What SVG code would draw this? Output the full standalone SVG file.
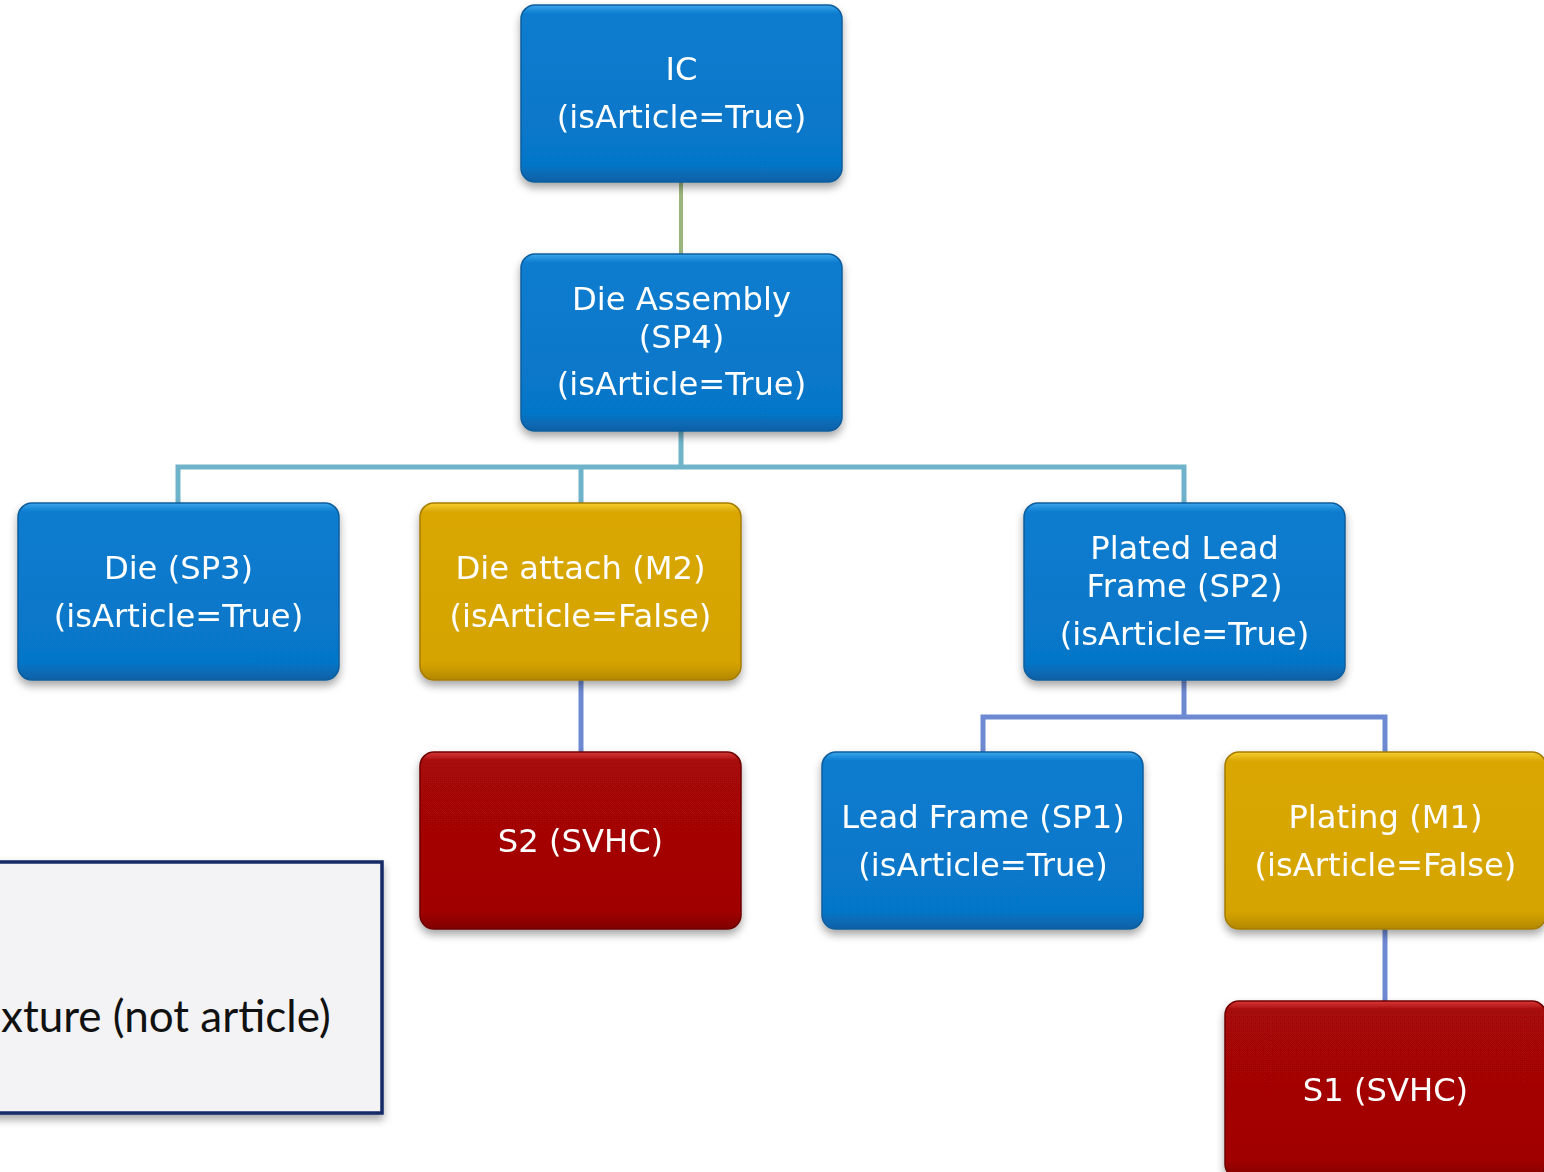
<svg xmlns="http://www.w3.org/2000/svg" width="1544" height="1172" viewBox="0 0 1544 1172">
  <style>
    .lbl { font-family: "DejaVu Sans", Verdana, sans-serif; font-size: 32.2px; fill: #ffffff; text-anchor: middle; }
    .blue { fill: url(#gBlue); stroke: #0b5d9c; stroke-width: 1.5; }
    .gold { fill: url(#gGold); stroke: #a47c05; stroke-width: 1.5; }
    .red { fill: url(#gRed); stroke: #6e0303; stroke-width: 1.5; }
    .box { filter: url(#shadow); }
    .c1 { stroke: #9bb67c; stroke-width: 4; fill: none; }
    .c2 { stroke: #6eb3ca; stroke-width: 5; fill: none; }
    .c3 { stroke: #6d89d2; stroke-width: 5; fill: none; }
    .legend-text { font-family: Lato, "Open Sans", sans-serif; font-size: 44px; fill: #111111; }
  </style>
  <defs>
    <linearGradient id="gBlue" x1="0" y1="0" x2="0" y2="1">
      <stop offset="0" stop-color="#3ea6ec"/>
      <stop offset="0.05" stop-color="#0a7ccf"/>
      <stop offset="0.9" stop-color="#0676c8"/>
      <stop offset="1" stop-color="#0860a6"/>
    </linearGradient>
    <linearGradient id="gGold" x1="0" y1="0" x2="0" y2="1">
      <stop offset="0" stop-color="#f8d030"/>
      <stop offset="0.05" stop-color="#d9a706"/>
      <stop offset="0.9" stop-color="#d6a404"/>
      <stop offset="1" stop-color="#b38805"/>
    </linearGradient>
    <linearGradient id="gRed" x1="0" y1="0" x2="0" y2="1">
      <stop offset="0" stop-color="#d83a3a"/>
      <stop offset="0.05" stop-color="#a60707"/>
      <stop offset="0.9" stop-color="#a10505"/>
      <stop offset="1" stop-color="#800303"/>
    </linearGradient>
    <filter id="shadow" x="-10%" y="-10%" width="120%" height="130%">
      <feDropShadow dx="0" dy="5" stdDeviation="4" flood-color="#000000" flood-opacity="0.35"/>
    </filter>
  </defs>

  <!-- tree connectors -->
  <g id="connectors">
    <path class="c1" d="M681 182 V254"/>
    <path class="c2" d="M681 431 V467 M178 503 V467 H1184 V503 M581 467 V503"/>
    <path class="c3" d="M581 680 V752"/>
    <path class="c3" d="M1184 680 V717 M983 752 V717 H1385 V752"/>
    <path class="c3" d="M1385 929 V1001"/>
  </g>

  <g id="node-ic" class="box">
    <rect class="blue" x="521" y="5" width="321" height="177" rx="14"/>
    <text class="lbl" x="681.5" y="80">IC</text>
    <text class="lbl" x="681.5" y="128">(isArticle=True)</text>
  </g>

  <g id="node-die-assembly" class="box">
    <rect class="blue" x="521" y="254" width="321" height="177" rx="14"/>
    <text class="lbl" x="681.5" y="310">Die Assembly</text>
    <text class="lbl" x="681.5" y="348">(SP4)</text>
    <text class="lbl" x="681.5" y="395">(isArticle=True)</text>
  </g>

  <g id="node-die" class="box">
    <rect class="blue" x="18" y="503" width="321" height="177" rx="14"/>
    <text class="lbl" x="178.5" y="579">Die (SP3)</text>
    <text class="lbl" x="178.5" y="627">(isArticle=True)</text>
  </g>

  <g id="node-die-attach" class="box">
    <rect class="gold" x="420" y="503" width="321" height="177" rx="14"/>
    <text class="lbl" x="580.5" y="579">Die attach (M2)</text>
    <text class="lbl" x="580.5" y="627">(isArticle=False)</text>
  </g>

  <g id="node-plated-lead-frame" class="box">
    <rect class="blue" x="1024" y="503" width="321" height="177" rx="14"/>
    <text class="lbl" x="1184.5" y="559">Plated Lead</text>
    <text class="lbl" x="1184.5" y="597">Frame (SP2)</text>
    <text class="lbl" x="1184.5" y="645">(isArticle=True)</text>
  </g>

  <g id="node-s2" class="box">
    <rect class="red" x="420" y="752" width="321" height="177" rx="14"/>
    <text class="lbl" x="580.5" y="852">S2 (SVHC)</text>
  </g>

  <g id="node-lead-frame" class="box">
    <rect class="blue" x="822" y="752" width="321" height="177" rx="14"/>
    <text class="lbl" x="983" y="828">Lead Frame (SP1)</text>
    <text class="lbl" x="983" y="876">(isArticle=True)</text>
  </g>

  <g id="node-plating" class="box">
    <rect class="gold" x="1225" y="752" width="321" height="177" rx="14"/>
    <text class="lbl" x="1385.5" y="828">Plating (M1)</text>
    <text class="lbl" x="1385.5" y="876">(isArticle=False)</text>
  </g>

  <g id="node-s1" class="box">
    <rect class="red" x="1225" y="1001" width="321" height="177" rx="14"/>
    <text class="lbl" x="1385.5" y="1101">S1 (SVHC)</text>
  </g>

  <!-- legend panel -->
  <g id="legend">
    <rect x="-20" y="862" width="402" height="251" fill="#f3f3f5" stroke="#132a68" stroke-width="3.5" filter="url(#shadow)"/>
    <text class="legend-text" x="1" y="1032">xture (not article)</text>
  </g>
</svg>
